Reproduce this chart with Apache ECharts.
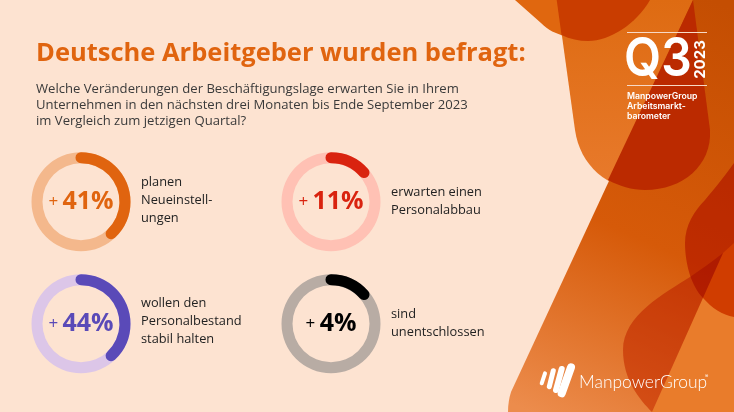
<!DOCTYPE html>
<html>
<head>
<meta charset="utf-8">
<style>html,body{margin:0;padding:0;background:#fde3d1}#chart{width:734px;height:412px}</style>
<script src="https://cdn.jsdelivr.net/npm/echarts@6/dist/echarts.min.js"></script>
</head>
<body>
<div id="chart"></div>
<script>
// values printed on the rings
const labelValues = [41, 11, 44, 4]
// share of the ring the arc covers in the picture (not proportional to the label)
const arcValues = [38, 13.5, 38, 13.5]
const captions = [
  ['planen', 'Neueinstell-', 'ungen'],
  ['erwarten einen', 'Personalabbau'],
  ['wollen den', 'Personalbestand', 'stabil halten'],
  ['sind', 'unentschlossen']
]
const arcColors = ['#e0640f', '#d9230f', '#5a4ab8', '#000000']
const trackColors = ['#f4b88c', '#ffc1b4', '#dcc6e8', '#b8aca4']
const titleText = 'Deutsche Arbeitgeber wurden befragt:'
const questionLines = [
  'Welche Veränderungen der Beschäftigungslage erwarten Sie in Ihrem',
  'Unternehmen in den nächsten drei Monaten bis Ende September 2023',
  'im Vergleich zum jetzigen Quartal?'
]
const badgeLines = ['ManpowerGroup', 'Arbeitsmarkt-', 'barometer']

const centers = [[81, 201.7], [331, 201.7], [81, 323.7], [331, 323.7]]
const captionTops = [182, 192, 303, 314]
const bodyFont = '"Open Sans", sans-serif'
const badgeFont = 'Inter, sans-serif'

let shapeCount = 0
function shape(path, fill, blend) {
  // the graphic component has no plain path type, so each outline is registered
  const name = 'bgShape' + shapeCount++
  echarts.graphic.registerShape(name, echarts.graphic.extendPath(path, {}))
  const style = {fill: fill}
  if (blend) style.blend = blend
  return {type: name, silent: true, style: style}
}
function text(x, y, str, font, fill, extra) {
  return Object.assign({
    type: 'text', x: x, y: y, silent: true,
    style: {text: str, font: font, fill: fill, textVerticalAlign: 'middle'}
  }, extra || {})
}
function bar(x1, y1, x2, y2, w) {
  return {
    type: 'line', silent: true,
    shape: {x1: x1, y1: y1, x2: x2, y2: y2},
    style: {stroke: '#fff', lineWidth: w, lineCap: 'round'}
  }
}
const grad = (x, y, x2, y2, stops) => new echarts.graphic.LinearGradient(x, y, x2, y2,
  stops.map(s => ({offset: s[0], color: s[1]})))

const graphics = [
  shape('M515,0 L541,23 C548,30 556,34 565,36 L565,0 Z', '#e0670f'),
  shape('M557,0 L575,130 C580,165 607,190 645,190 C683,190 712,165 710,130 L693,0 Z', grad(0, 0, 0, 1, [[0, '#de6b12'], [1, '#e87a2c']])),
  shape('M693,0 L734,0 L734,412 L508,412 C508,405 509,398 511,392 Z', grad(0.9, 0, 0.1, 1, [[0, '#c44e02'], [0.55, '#d65a09'], [1, '#ec8c4c']])),
  shape('M693,0 L608,180 C619,186 632,190 645,190 C683,190 712,165 710,130 Z', '#bb2a00'),
  shape('M556.7,0 L561.5,35 C570,39 579,41 588,41 C610,41 636,24 650,0 Z', '#c93d00'),
  shape('M723,253 L734,243 L734,412 L652,412 Z', '#e97c2b'),
  shape('M723,253 C712,262 700,270 690,277 C665,293 623,315 623,350 C623,380 640,400 652,412 Z', '#ea9a58', 'multiply'),
  shape('M734,163 C722,180 713,190 705,200 C695,210 685,225 685,243 C685,265 692,287 703,298 C712,308 722,315 734,317 Z', '#e47d00', 'multiply'),

  text(36, 54, titleText, 'bold 25.5px ' + bodyFont, '#e0640f'),

  {type: 'line', silent: true, shape: {x1: 627, y1: 32.5, x2: 707, y2: 32.5}, style: {stroke: '#f7d9c6', lineWidth: 1}},
  {type: 'line', silent: true, shape: {x1: 627, y1: 85.5, x2: 707, y2: 85.5}, style: {stroke: '#f7d9c6', lineWidth: 1}},
  text(0, 0, 'Q3', '600 54px ' + badgeFont, '#fff', {x: 624, y: 60, scaleX: 0.89}),
  {
    type: 'text', silent: true, x: 700.5, y: 59.5, rotation: Math.PI / 2,
    style: {text: '2023', font: 'bold 15px ' + badgeFont, fill: '#fff', textAlign: 'center', textVerticalAlign: 'middle'}
  },
  bar(545, 373.3, 541.7, 383.3, 4),
  bar(553.3, 370.7, 549.3, 386.7, 5),
  bar(561.7, 369, 556, 390, 6),
  bar(571, 367.3, 561.7, 393.3, 8),
  text(579, 382, 'ManpowerGroup', '300 17.4px Lato, sans-serif', '#fff'),
  text(705, 376, '®', '5px ' + badgeFont, '#fff')
]
questionLines.forEach((l, i) => graphics.push(text(36, 89 + i * 16, l, '13.1px ' + bodyFont, '#3a3a3a')))
badgeLines.forEach((l, i) => graphics.push(text(627, 96 + i * 10.3, l, '600 8.7px ' + badgeFont, '#fff')))
captions.forEach((lines, k) => {
  const x = centers[k][0] + 60
  lines.forEach((l, i) => graphics.push(text(x, captionTops[k] + i * 18, l, '12.8px ' + bodyFont, '#222')))
})

const series = labelValues.map((v, i) => ({
  type: 'gauge',
  center: [centers[i][0], centers[i][1]],
  radius: 49.5,
  startAngle: 90,
  endAngle: -270,
  min: 0,
  max: 100,
  animation: false,
  silent: true,
  pointer: {show: false},
  axisTick: {show: false},
  splitLine: {show: false},
  axisLabel: {show: false},
  title: {show: false},
  axisLine: {lineStyle: {width: 11, color: [[1, trackColors[i]]]}},
  progress: {show: true, width: 11, roundCap: true, itemStyle: {color: arcColors[i]}},
  detail: {
    valueAnimation: false,
    offsetCenter: [0, 0],
    formatter: () => '{p|+ }{n|' + v + '%}',
    rich: {
      p: {fontFamily: 'Open Sans', fontWeight: 'normal', fontSize: 17, color: arcColors[i], verticalAlign: 'middle'},
      n: {fontFamily: 'Open Sans', fontWeight: 'bold', fontSize: 25, color: arcColors[i]}
    }
  },
  data: [{value: arcValues[i]}]
}))

const chart = echarts.init(document.getElementById('chart'))
chart.setOption({
  backgroundColor: '#fde3d1',
  animation: false,
  graphic: {elements: graphics},
  series: series
})
</script>
</body>
</html>
